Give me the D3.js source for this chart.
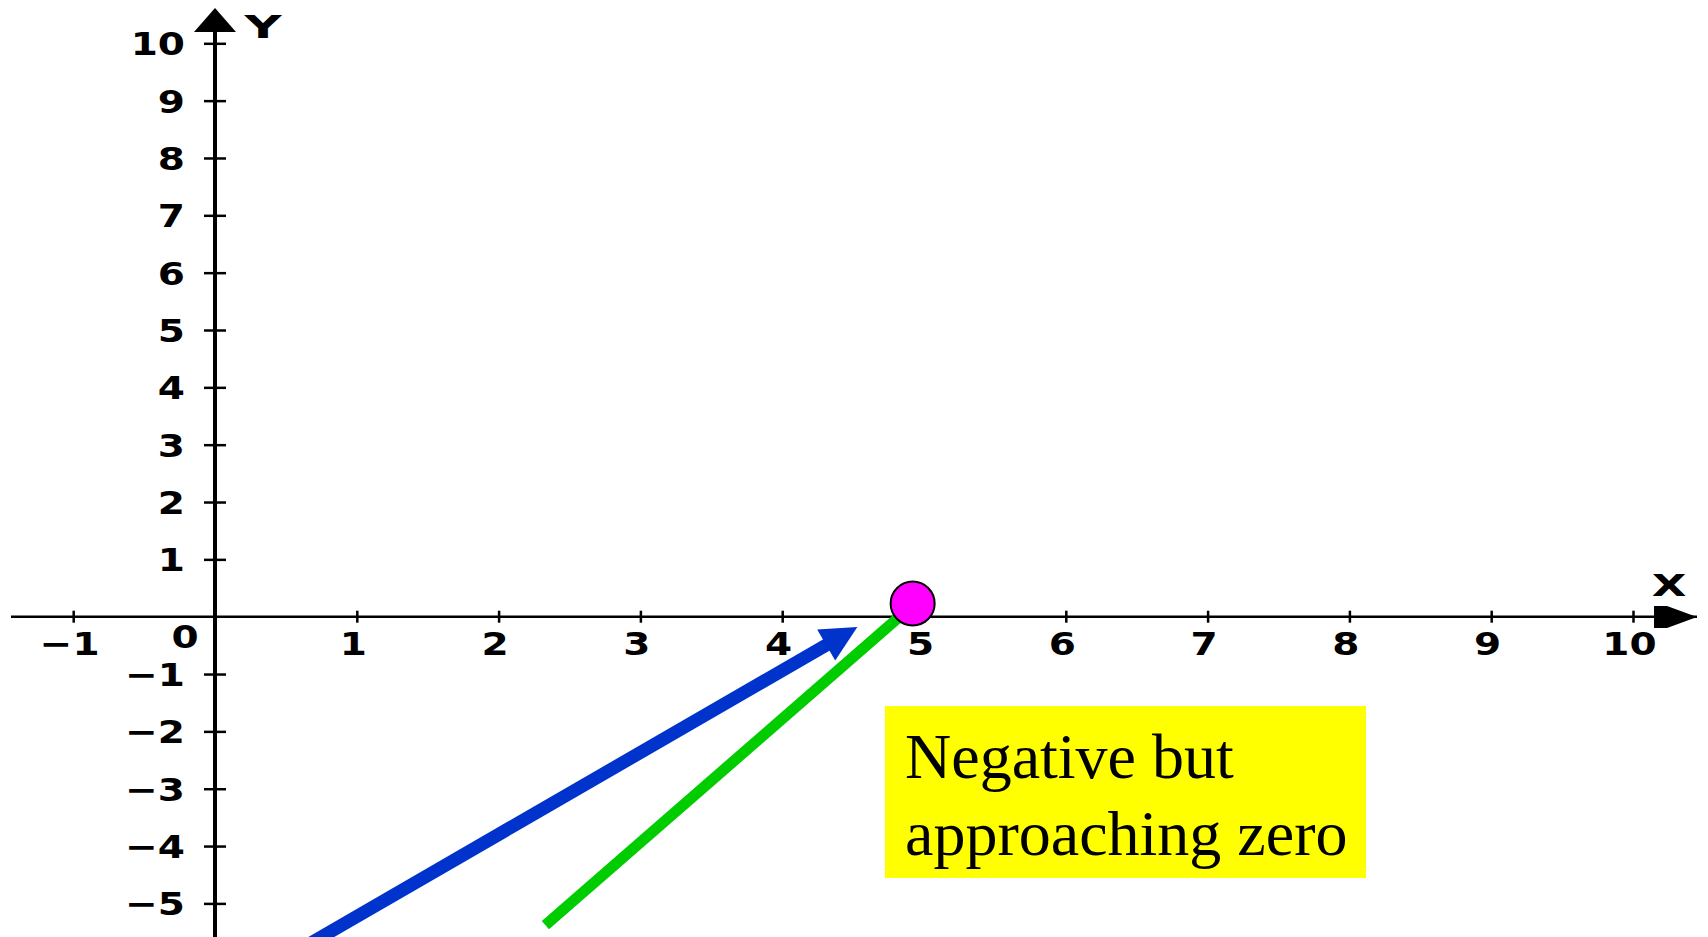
<!DOCTYPE html>
<html>
<head>
<meta charset="utf-8">
<script src="https://cdn.jsdelivr.net/npm/d3@7"></script>
<style>
  body { margin: 0; background: #fff; }
  svg { display: block; }
  .tick text { font-family: "DejaVu Sans", sans-serif; font-weight: bold; font-size: 32px; fill: #000; }
</style>
</head>
<body>
<svg width="1708" height="937"></svg>
<script>
// chart values
var xTicks = [-1, 1, 2, 3, 4, 5, 6, 7, 8, 9, 10];
var yTicks = [-5, -4, -3, -2, -1, 1, 2, 3, 4, 5, 6, 7, 8, 9, 10];
var limitPoint = [4.92, 0.23];
var blueArrow = [[0.6, -5.8], [4.53, -0.18]];
var greenLine = [[2.33, -5.38], [4.85, 0.05]];
var noteLines = ["Negative but", "approaching zero"];

var svg = d3.select("svg"),
	width = +svg.attr("width"),
	height = +svg.attr("height");

// origin at (215, 616.7), one unit = 141.8px across and 57.3px up
var x = d3.scaleLinear().domain([0, 10]).range([215, 1633]);
var y = d3.scaleLinear().domain([0, 10]).range([616.7, 43.3]);

// blocky labels are wider than normal type, so stretch them a bit
var stretch = 1.22;

// x axis
var xAxis = svg.append("g")
	.attr("transform", "translate(0," + y(0) + ")")
	.call(d3.axisBottom(x).tickValues(xTicks).tickSize(6));
xAxis.select(".domain").remove();
xAxis.selectAll(".tick line").attr("y1", -6).attr("y2", 6).attr("stroke-width", 2.5);
xAxis.selectAll(".tick text")
	.attr("x", -4 / stretch).attr("y", 38).attr("dy", 0)
	.attr("transform", "scale(" + stretch + ",1)");

svg.append("line")
	.attr("x1", 11).attr("x2", 1697)
	.attr("y1", y(0)).attr("y2", y(0))
	.attr("stroke", "#000").attr("stroke-width", 2.5);

// y axis
var yAxis = svg.append("g")
	.attr("transform", "translate(" + x(0) + ",0)")
	.call(d3.axisLeft(y).tickValues(yTicks).tickSize(11));
yAxis.select(".domain").remove();
yAxis.selectAll(".tick line").attr("x1", -11).attr("x2", 11).attr("stroke-width", 2.5);
yAxis.selectAll(".tick text")
	.attr("x", -30 / stretch).attr("dy", "0.36em")
	.attr("transform", "scale(" + stretch + ",1)");

svg.append("line")
	.attr("x1", x(0)).attr("x2", x(0))
	.attr("y1", 10).attr("y2", height)
	.attr("stroke", "#000").attr("stroke-width", 4);

// origin label
svg.append("text")
	.attr("transform", "translate(185,648) scale(" + stretch + ",1)")
	.attr("text-anchor", "middle")
	.style("font-family", "DejaVu Sans, sans-serif")
	.style("font-weight", "bold").style("font-size", "32px")
	.text("0");

// axis arrow heads
svg.append("path")
	.attr("d", "M215,8 L236,32 L194,32 Z")
	.attr("fill", "#000");
svg.append("path")
	.attr("d", "M1654,606 L1667,606 L1697,617 L1667,628 L1654,628 Z")
	.attr("fill", "#000");

// axis names
svg.append("text")
	.attr("transform", "translate(263,38) scale(1.6,1)")
	.attr("text-anchor", "middle")
	.style("font-family", "DejaVu Sans, sans-serif")
	.style("font-weight", "bold").style("font-size", "32px")
	.text("Y");
svg.append("text")
	.attr("transform", "translate(1669,596) scale(1.5,1)")
	.attr("text-anchor", "middle")
	.style("font-family", "DejaVu Sans, sans-serif")
	.style("font-weight", "bold").style("font-size", "30px")
	.text("X");

// blue arrow
var p0 = [x(blueArrow[0][0]), y(blueArrow[0][1])],
	p1 = [x(blueArrow[1][0]), y(blueArrow[1][1])];
var dx = p1[0] - p0[0], dy = p1[1] - p0[1], len = Math.sqrt(dx * dx + dy * dy);
var ux = dx / len, uy = dy / len, nx = -uy, ny = ux;
var headLen = 36, headHalf = 18;
var base = [p1[0] - headLen * ux, p1[1] - headLen * uy];
svg.append("line")
	.attr("x1", p0[0]).attr("y1", p0[1])
	.attr("x2", base[0] + 2 * ux).attr("y2", base[1] + 2 * uy)
	.attr("stroke", "#0033cc").attr("stroke-width", 13);
svg.append("path")
	.attr("d", "M" + p1[0] + "," + p1[1] +
		" L" + (base[0] + headHalf * nx) + "," + (base[1] + headHalf * ny) +
		" L" + (base[0] - headHalf * nx) + "," + (base[1] - headHalf * ny) + " Z")
	.attr("fill", "#0033cc");

// green line
svg.append("line")
	.attr("x1", x(greenLine[0][0])).attr("y1", y(greenLine[0][1]))
	.attr("x2", x(greenLine[1][0])).attr("y2", y(greenLine[1][1]))
	.attr("stroke", "#00cc00").attr("stroke-width", 11);

// limit point
svg.append("circle")
	.attr("cx", x(limitPoint[0])).attr("cy", y(limitPoint[1]))
	.attr("r", 22)
	.attr("fill", "#ff00ff")
	.attr("stroke", "#000").attr("stroke-width", 2);

// note box
svg.append("rect")
	.attr("x", 885).attr("y", 706)
	.attr("width", 481).attr("height", 172)
	.attr("fill", "#ffff00");
svg.append("g").selectAll("text")
	.data(noteLines)
	.enter().append("text")
	.attr("x", 905)
	.attr("y", (d, i) => 778 + i * 77)
	.style("font-family", "Liberation Serif, Times New Roman, serif")
	.style("font-size", "64px")
	.attr("fill", "#000")
	.text(d => d);
</script>
</body>
</html>
